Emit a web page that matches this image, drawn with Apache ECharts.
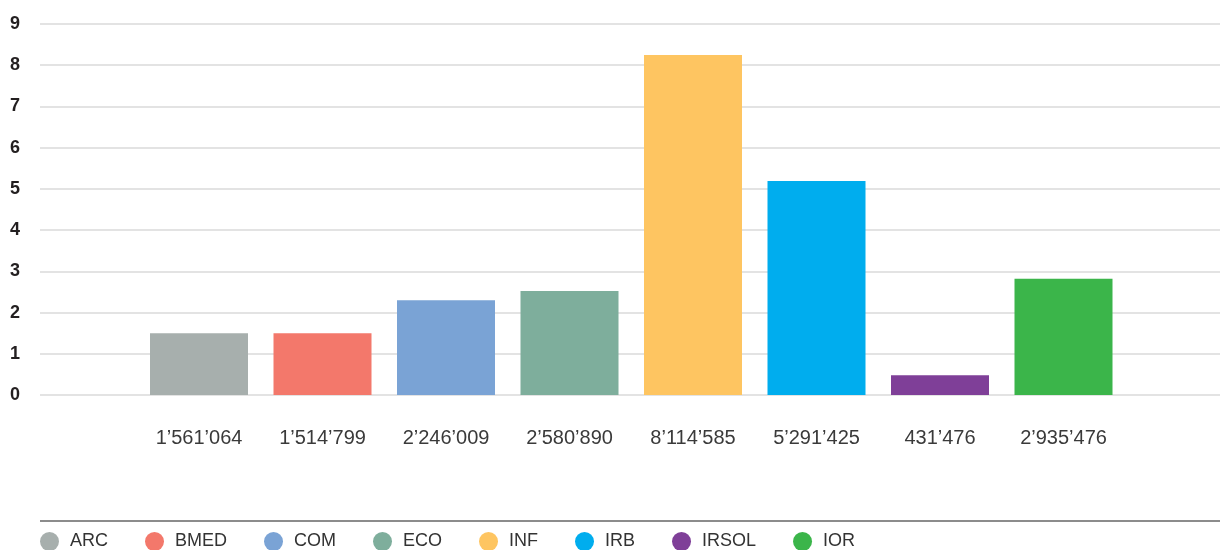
<!DOCTYPE html>
<html>
<head>
<meta charset="utf-8">
<script src="https://cdn.jsdelivr.net/npm/echarts@6/dist/echarts.min.js"></script>
<style>
html,body{margin:0;padding:0;background:#fff;}
#chart{width:1220px;height:550px;}
</style>
</head>
<body>
<div id="chart"></div>
<script>
const categories = ['ARC','BMED','COM','ECO','INF','IRB','IRSOL','IOR'];
const amountLabels = ['1’561’064','1’514’799','2’246’009','2’580’890','8’114’585','5’291’425','431’476','2’935’476'];
const values = [1.50, 1.50, 2.30, 2.52, 8.25, 5.19, 0.48, 2.82];
const colors = ['#a7afad','#f3786b','#7aa3d5','#7eae9c','#fec561','#00adee','#7f3f98','#3bb54a'];
const yTicks = [0,1,2,3,4,5,6,7,8,9];

const chart = echarts.init(document.getElementById('chart'));
const FONT = '"Liberation Sans", Arial, sans-serif';

const series = categories.map((name, i) => ({
  name: name,
  type: 'bar',
  stack: 'all',
  xAxisIndex: 1,
  yAxisIndex: 1,
  barWidth: 98,
  itemStyle: { color: colors[i] },
  data: amountLabels.map((_, j) => (j === i ? values[i] : '-'))
}));

chart.setOption({
  animation: false,
  color: colors,
  grid: [
    { left: 40, right: 0, top: 24, height: 371 },
    { left: 137.25, right: 94.75, top: 24, height: 371 }
  ],
  xAxis: [
    { type: 'value', gridIndex: 0, show: false, min: 0, max: 1 },
    {
      type: 'category', gridIndex: 1, data: amountLabels,
      axisLine: { show: false }, axisTick: { show: false },
      axisLabel: { margin: 33, fontSize: 20, color: '#3a3a3a', fontFamily: FONT }
    }
  ],
  yAxis: [
    {
      type: 'value', gridIndex: 0, min: yTicks[0], max: yTicks[yTicks.length - 1], interval: 1,
      axisLine: { show: false }, axisTick: { show: false },
      axisLabel: { margin: 20, fontSize: 18, fontWeight: 'bold', color: '#231f20', fontFamily: FONT },
      splitLine: { lineStyle: { color: '#dadada', width: 1.5 } }
    },
    {
      type: 'value', gridIndex: 1, min: yTicks[0], max: yTicks[yTicks.length - 1], interval: 1,
      show: false, splitLine: { show: false }
    }
  ],
  legend: {
    left: 40, top: 532, padding: 0,
    icon: 'circle', itemWidth: 19, itemHeight: 19, itemGap: 37,
    textStyle: { fontSize: 18, color: '#333', fontFamily: FONT, padding: [0, 0, 0, 6] },
    data: categories
  },
  graphic: [
    { type: 'line', shape: { x1: 40, y1: 521, x2: 1220, y2: 521 }, style: { stroke: '#8c8c8c', lineWidth: 2 } }
  ],
  series: series
});
</script>
</body>
</html>
